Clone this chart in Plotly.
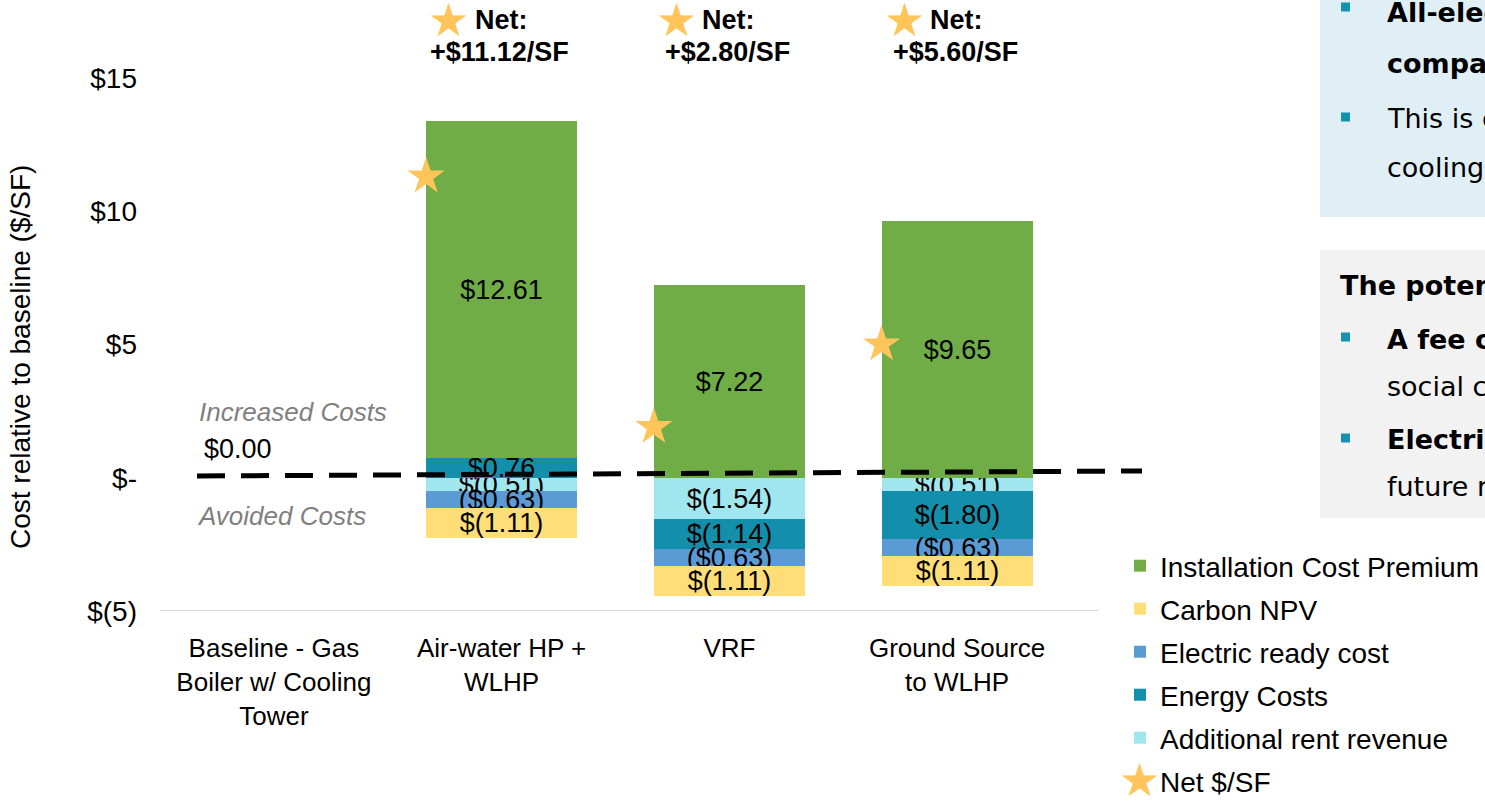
import plotly.graph_objects as go

# ---------------- data ----------------
categories = ["Baseline - Gas<br>Boiler w/ Cooling<br>Tower", "Air-water HP +<br>WLHP", "VRF", "Ground Source<br>to WLHP"]
x_pos = [0, 1, 2, 3]
install = [None, 12.61, 7.22, 9.65]
energy = [None, 0.76, -1.14, -1.80]
rent = [None, -0.51, -1.54, -0.51]
electric = [None, -0.63, -0.63, -0.63]
carbon = [None, -1.11, -1.11, -1.11]
net = [None, 11.12, 2.80, 5.60]
net_labels = [None, "+$11.12/SF", "+$2.80/SF", "+$5.60/SF"]
star_y = [None, 11.3, 1.9, 5.0]   # where the net stars sit in the picture
y_ticks = [-5, 0, 5, 10, 15]
y_ticktext = ["$(5)", "$-", "$5", "$10", "$15"]

# ---------------- style ----------------
W, H = 1485, 801
L, R, T, B = 160, 1071, 78, 611          # plot area in pixels
FONT = "Liberation Sans, Arial, sans-serif"
PFONT = "DejaVu Sans, sans-serif"
C_INSTALL = "#70AD47"
C_CARBON = "#FFDE78"
C_ELEC = "#5B9BD5"
C_ENERGY = "#148FAB"
C_RENT = "#9FE6EF"
C_STAR = "#FFC55A"
BAR_W = 0.663


def px(x):
    return (x - L) / (R - L)


def py(y):
    return (B - y) / (B - T)


def fmt_a(v):
    if v is None:
        return ""
    return "$(%.2f)" % abs(v) if v < 0 else "$%.2f" % v


def fmt_b(v):
    if v is None:
        return ""
    return "($%.2f)" % abs(v) if v < 0 else "$%.2f" % v


fig = go.Figure()

series = [
    ("Additional rent revenue", rent, C_RENT, fmt_a, 5),
    ("Energy Costs", energy, C_ENERGY, fmt_a, 4),
    ("Electric ready cost", electric, C_ELEC, fmt_b, 3),
    ("Carbon NPV", carbon, C_CARBON, fmt_a, 2),
    ("Installation Cost Premium", install, C_INSTALL, fmt_a, 1),
]
for name, vals, col, f, rank in series:
    fig.add_trace(go.Bar(
        x=x_pos, y=vals, name=name, width=BAR_W,
        marker=dict(color=col, line=dict(width=0)),
        text=[f(v) for v in vals], textposition="inside", insidetextanchor="middle",
        textangle=0, insidetextfont=dict(color="black", size=27, family=FONT),
        legendrank=rank, legendgroup=name, hoverinfo="skip",
    ))

fig.add_trace(go.Scatter(
    x=[i - BAR_W / 2 if v is not None else None for i, v in zip(x_pos, star_y)],
    y=star_y, mode="markers", name="Net $/SF",
    marker=dict(symbol="star", size=28, color=C_STAR, line=dict(width=0)),
    legendrank=6, legendgroup="net", cliponaxis=False, hoverinfo="skip",
))

shapes = []
# bottom axis line
shapes.append(dict(type="line", xref="paper", yref="y", x0=px(160), x1=px(1098),
                   y0=y_ticks[0], y1=y_ticks[0], line=dict(color="#D9D9D9", width=2), layer="below"))
# zero dashed line
shapes.append(dict(type="line", xref="paper", yref="paper",
                   x0=px(197), x1=px(1142), y0=py(476), y1=py(471),
                   line=dict(color="black", width=5, dash="28px,16px"), layer="above"))
# right panels
shapes.append(dict(type="rect", xref="paper", yref="paper", x0=px(1320), x1=px(1500),
                   y0=py(217), y1=py(-5), fillcolor="#DFEFF5", line=dict(width=0), layer="below"))
shapes.append(dict(type="rect", xref="paper", yref="paper", x0=px(1320), x1=px(1500),
                   y0=py(518), y1=py(250), fillcolor="#F2F2F2", line=dict(width=0), layer="below"))
for by in [7, 117, 337, 438]:
    shapes.append(dict(type="rect", xref="paper", yref="paper", x0=px(1341), x1=px(1350),
                       y0=py(by + 4.5), y1=py(by - 4.5), fillcolor="#1591B0", line=dict(width=0)))

ann = []
# net labels on top
for i, lab in zip(x_pos, net_labels):
    if lab is None:
        continue
    ann.append(dict(x=i, xref="x", y=py(52), yref="paper", text="<b>%s</b>" % lab,
                    showarrow=False, xanchor="center", yanchor="middle", xshift=-2,
                    font=dict(size=27, family=FONT, color="black")))
    ann.append(dict(x=i, xref="x", y=py(20), yref="paper", text="<b>Net:</b>",
                    showarrow=False, xanchor="left", yanchor="middle", xshift=-29,
                    font=dict(size=27, family=FONT, color="black")))
    ann.append(dict(x=i, xref="x", y=py(20), yref="paper", text="★",
                    showarrow=False, xanchor="center", yanchor="middle", xshift=-53,
                    font=dict(size=46, family=PFONT, color=C_STAR)))

# big star over the legend's Net symbol
ann.append(dict(x=px(1139), y=py(780), xref="paper", yref="paper", text="★",
                showarrow=False, xanchor="center", yanchor="middle",
                font=dict(size=46, family=PFONT, color=C_STAR)))

# zone labels
ann.append(dict(x=px(197), y=py(412), xref="paper", yref="paper", text="<i>Increased Costs</i>",
                showarrow=False, xanchor="left", yanchor="middle",
                font=dict(size=26, family=FONT, color="#7F7F7F")))
ann.append(dict(x=px(202), y=py(449), xref="paper", yref="paper", text="$0.00",
                showarrow=False, xanchor="left", yanchor="middle",
                font=dict(size=27, family=FONT, color="black")))
ann.append(dict(x=px(195), y=py(516), xref="paper", yref="paper", text="<i>Avoided Costs</i>",
                showarrow=False, xanchor="left", yanchor="middle",
                font=dict(size=26, family=FONT, color="#7F7F7F")))
# y axis title
ann.append(dict(x=px(20), y=py(357), xref="paper", yref="paper",
                text="Cost relative to baseline ($/SF)", textangle=-90,
                showarrow=False, xanchor="center", yanchor="middle",
                font=dict(size=28, family=FONT, color="black")))

# right side panel texts
panel_lines = [
    (1385, 13, "<b>All-electric options cost more</b>"),
    (1385, 63, "<b>compared to the baseline</b>"),
    (1385, 119, "This is consistent across"),
    (1385, 167, "cooling system types"),
    (1338, 285, "<b>The potential to close the gap:</b>"),
    (1385, 339, "<b>A fee on carbon reflecting the</b>"),
    (1385, 387, "social cost of carbon"),
    (1385, 439, "<b>Electric-ready requirements</b>"),
    (1385, 486, "future retrofit costs"),
]
for xx, yy, t in panel_lines:
    ann.append(dict(x=px(xx), y=py(yy), xref="paper", yref="paper", text=t,
                    showarrow=False, xanchor="left", yanchor="middle",
                    font=dict(size=27, family=PFONT, color="black")))

fig.update_layout(
    width=W, height=H,
    margin=dict(l=L, r=W - R, t=T, b=H - B, pad=0, autoexpand=False),
    barmode="relative",
    bargap=0,
    plot_bgcolor="white", paper_bgcolor="white",
    font=dict(family=FONT, color="black"),
    uniformtext=dict(minsize=27, mode="show"),
    shapes=shapes, annotations=ann,
    showlegend=True,
    legend=dict(x=px(1120), y=py(541), xanchor="left", yanchor="top",
                font=dict(size=28, family=FONT, color="black"),
                traceorder="grouped", tracegroupgap=3.6, itemwidth=30,
                bgcolor="rgba(0,0,0,0)"),
    xaxis=dict(range=[-0.5, 3.5], tickvals=x_pos, ticktext=categories,
               showgrid=False, zeroline=False, showline=False, automargin=False,
               ticks="", tickfont=dict(size=26, family=FONT, color="black"),
               ticklabelstandoff=19),
    yaxis=dict(range=[-5, 15], tickvals=y_ticks, ticktext=y_ticktext,
               showgrid=False, zeroline=False, showline=False, ticks="", automargin=False,
               tickfont=dict(size=28, family=FONT, color="black"),
               ticklabelstandoff=22),
)

fig.write_html("out.html", config={"displayModeBar": False},
               post_script="document.body.style.margin='0px';")
